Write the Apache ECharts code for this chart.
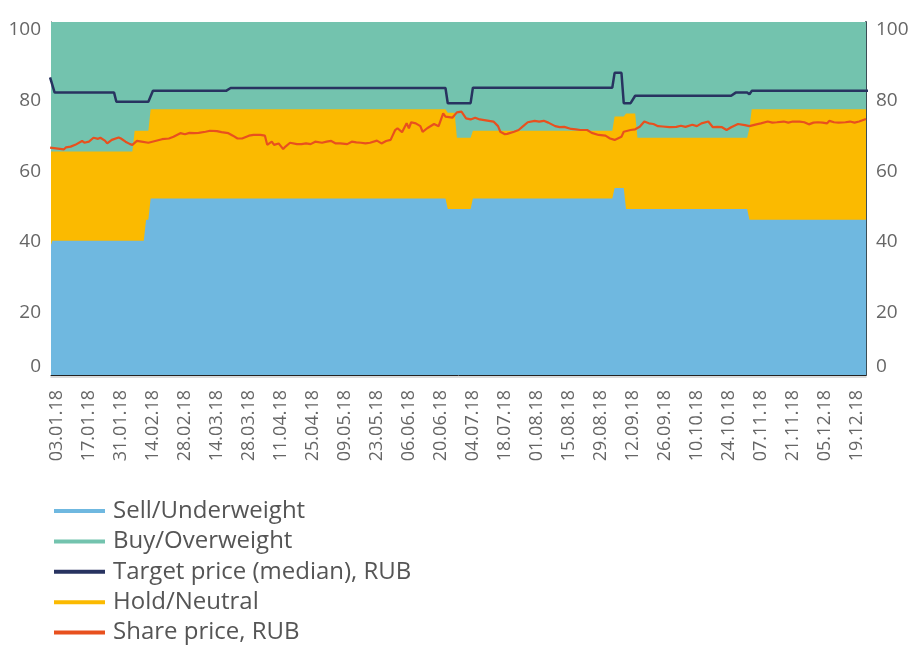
<!DOCTYPE html>
<html>
<head>
<meta charset="utf-8">
<script src="https://cdn.jsdelivr.net/npm/echarts@6/dist/echarts.min.js"></script>
<style>
  html, body { margin: 0; padding: 0; background: #ffffff; }
  #chart { width: 912px; height: 646px; }
</style>
</head>
<body>
<div id="chart"></div>
<script>
// Analyst recommendation split (% of analysts), at the dates where it changes
const ratingDates = [
  '2017-12-31', '2018-01-01', '2018-02-05', '2018-02-06', '2018-02-10', '2018-02-11',
  '2018-02-12', '2018-02-13', '2018-06-22', '2018-06-23', '2018-06-26', '2018-06-27',
  '2018-07-03', '2018-07-04', '2018-09-03', '2018-09-04', '2018-09-08', '2018-09-09',
  '2018-09-13', '2018-09-14', '2018-11-01', '2018-11-02', '2018-11-03', '2018-12-26'
];
const sellShare = [36, 38, 38, 38, 38, 44, 44, 50, 50, 47, 47, 47, 47, 50, 50, 53, 53, 47, 47, 47, 47, 44, 44, 44];
const holdShare = [27.3, 25.3, 25.3, 31.2, 31.2, 25.2, 25.2, 25.3, 25.3, 27.3, 27.3, 20.2, 20.2, 19.2, 19.2, 20.2, 20.2, 27.1, 27.1, 20.2, 20.2, 25.9, 31.3, 31.3];
const buyShare  = [36.7, 36.7, 36.7, 30.8, 30.8, 30.8, 30.8, 24.7, 24.7, 25.7, 25.7, 32.8, 32.8, 30.8, 30.8, 26.8, 26.8, 25.9, 25.9, 32.8, 32.8, 30.1, 24.7, 24.7];

// Median analyst target price, RUB
const targetDates = [
  '2017-12-31', '2018-01-02', '2018-01-28', '2018-01-29', '2018-02-12', '2018-02-14',
  '2018-03-18', '2018-03-20', '2018-06-22', '2018-06-23', '2018-07-03', '2018-07-04',
  '2018-09-03', '2018-09-04', '2018-09-07', '2018-09-08', '2018-09-11', '2018-09-13',
  '2018-10-25', '2018-10-27', '2018-11-01', '2018-11-02', '2018-11-03', '2018-12-26'
];
const targetPrice = [84.3, 80.0, 80.0, 77.4, 77.4, 80.5, 80.5, 81.3, 81.3, 77.0, 77.0, 81.4,
  81.4, 85.6, 85.6, 77.0, 77.0, 79.1, 79.1, 80.0, 80.0, 79.5, 80.5, 80.5];

// Share price, RUB
const priceDates = [
  '2017-12-31', '2018-01-06', '2018-01-07', '2018-01-09', '2018-01-11', '2018-01-14', '2018-01-15',
  '2018-01-17', '2018-01-19', '2018-01-21', '2018-01-22', '2018-01-24', '2018-01-25', '2018-01-27',
  '2018-01-30', '2018-01-31', '2018-02-02', '2018-02-04', '2018-02-05', '2018-02-07', '2018-02-09',
  '2018-02-12', '2018-02-15', '2018-02-18', '2018-02-21', '2018-02-23', '2018-02-26', '2018-02-28',
  '2018-03-02', '2018-03-04', '2018-03-06', '2018-03-09', '2018-03-11', '2018-03-14', '2018-03-16',
  '2018-03-19', '2018-03-21', '2018-03-23', '2018-03-25', '2018-03-28', '2018-03-30', '2018-04-02',
  '2018-04-04', '2018-04-05', '2018-04-07', '2018-04-08', '2018-04-10', '2018-04-12', '2018-04-13',
  '2018-04-15', '2018-04-18', '2018-04-20', '2018-04-22', '2018-04-24', '2018-04-26', '2018-04-29',
  '2018-05-01', '2018-05-03', '2018-05-05', '2018-05-07', '2018-05-10', '2018-05-12', '2018-05-14',
  '2018-05-16', '2018-05-18', '2018-05-20', '2018-05-23', '2018-05-25', '2018-05-27', '2018-05-29',
  '2018-05-31', '2018-06-01', '2018-06-03', '2018-06-05', '2018-06-06', '2018-06-07', '2018-06-09',
  '2018-06-11', '2018-06-12', '2018-06-14', '2018-06-17', '2018-06-19', '2018-06-21', '2018-06-22',
  '2018-06-25', '2018-06-27', '2018-06-29', '2018-07-01', '2018-07-03', '2018-07-05', '2018-07-07',
  '2018-07-09', '2018-07-11', '2018-07-13', '2018-07-15', '2018-07-16', '2018-07-18', '2018-07-19',
  '2018-07-22', '2018-07-24', '2018-07-26', '2018-07-28', '2018-07-31', '2018-08-02', '2018-08-04',
  '2018-08-06', '2018-08-09', '2018-08-11', '2018-08-13', '2018-08-16', '2018-08-18', '2018-08-20',
  '2018-08-23', '2018-08-25', '2018-08-28', '2018-08-31', '2018-09-02', '2018-09-04', '2018-09-07',
  '2018-09-08', '2018-09-11', '2018-09-13', '2018-09-15', '2018-09-17', '2018-09-19', '2018-09-21',
  '2018-09-23', '2018-09-25', '2018-09-28', '2018-10-01', '2018-10-03', '2018-10-05', '2018-10-08',
  '2018-10-10', '2018-10-12', '2018-10-15', '2018-10-17', '2018-10-19', '2018-10-21', '2018-10-23',
  '2018-10-25', '2018-10-28', '2018-10-31', '2018-11-02', '2018-11-05', '2018-11-07', '2018-11-10',
  '2018-11-12', '2018-11-14', '2018-11-17', '2018-11-19', '2018-11-21', '2018-11-24', '2018-11-26',
  '2018-11-28', '2018-11-30', '2018-12-02', '2018-12-04', '2018-12-06', '2018-12-07', '2018-12-09',
  '2018-12-11', '2018-12-14', '2018-12-16', '2018-12-18', '2018-12-20', '2018-12-23'
];
const sharePrice = [
  64.4, 63.9, 64.5, 64.7, 65.2, 66.3, 65.8,
  66.1, 67.2, 66.9, 67.2, 66.4, 65.6, 66.6,
  67.3, 67.0, 66.1, 65.4, 65.2, 66.3, 66.1,
  65.8, 66.3, 66.8, 67.0, 67.5, 68.5, 68.2,
  68.6, 68.5, 68.6, 68.9, 69.2, 69.1, 68.8,
  68.5, 67.8, 67.0, 67.0, 67.8, 68.0, 68.0,
  67.8, 65.2, 66.1, 65.2, 65.6, 64.0, 64.7,
  65.8, 65.4, 65.4, 65.6, 65.4, 66.1, 65.8,
  66.1, 66.3, 65.6, 65.6, 65.4, 66.1, 65.9,
  65.8, 65.6, 65.8, 66.4, 65.6, 66.3, 66.6,
  69.4, 69.9, 68.8, 71.3, 69.9, 71.6, 71.3,
  70.5, 68.9, 69.9, 71.1, 70.5, 74.1, 73.2,
  72.9, 74.4, 74.6, 72.7, 72.4, 72.9, 72.4,
  72.2, 72.0, 71.8, 70.5, 68.9, 68.2, 68.3,
  68.9, 69.4, 70.5, 71.6, 72.0, 71.8, 72.0,
  71.5, 70.5, 70.2, 70.3, 69.7, 69.6, 69.4,
  69.4, 68.6, 68.0, 67.8, 67.0, 66.6, 67.5,
  68.9, 69.4, 69.6, 70.3, 71.8, 71.3, 71.1,
  70.5, 70.4, 70.2, 70.3, 70.6, 70.3, 70.9,
  70.5, 71.3, 71.8, 70.2, 70.3, 70.2, 69.4,
  70.2, 71.1, 70.8, 70.5, 71.0, 71.3, 71.8,
  71.5, 71.6, 71.8, 71.5, 71.8, 71.8, 71.6,
  71.0, 71.5, 71.6, 71.5, 71.3, 72.0, 71.6,
  71.5, 71.6, 71.8, 71.5, 71.8, 72.5
];

// Date axis labels, one every two weeks
const tickLabels = [
  '03.01.18', '17.01.18', '31.01.18', '14.02.18', '28.02.18', '14.03.18', '28.03.18',
  '11.04.18', '25.04.18', '09.05.18', '23.05.18', '06.06.18', '20.06.18', '04.07.18',
  '18.07.18', '01.08.18', '15.08.18', '29.08.18', '12.09.18', '26.09.18', '10.10.18',
  '24.10.18', '07.11.18', '21.11.18', '05.12.18', '19.12.18'
];

// x positions are days counted from 3 Jan 2018
const DAY = 86400000;
const ORIGIN = Date.UTC(2018, 0, 3);
function isoToDay(s) {
  const p = s.split('-').map(Number);
  return (Date.UTC(p[0], p[1] - 1, p[2]) - ORIGIN) / DAY;
}
function labelToDay(s) {
  const p = s.split('.').map(Number);
  return (Date.UTC(2000 + p[2], p[1] - 1, p[0]) - ORIGIN) / DAY;
}
function dayToLabel(v) {
  const d = new Date(ORIGIN + Math.round(v) * DAY);
  const pad = n => String(n).padStart(2, '0');
  return pad(d.getUTCDate()) + '.' + pad(d.getUTCMonth() + 1) + '.' + String(d.getUTCFullYear()).slice(2);
}
const pairs = (dates, vals) => dates.map((d, i) => [isoToDay(d), vals[i]]);

// Cumulative levels of the three rating bands (sell at the bottom, buy on top)
const sellTop = sellShare.slice();
const holdTop = sellShare.map((v, i) => v + holdShare[i]);
const buyTop = holdTop.map((v, i) => v + buyShare[i]);

const FONT = 'Open Sans';
const LABEL_COLOR = '#666666';
const X_MIN = -2.6, X_MAX = 354;

const C_SELL = '#6fb8e0';
const C_HOLD = '#fbba00';
const C_BUY = '#73c3ae';
const C_TARGET = '#283360';
const C_PRICE = '#e8501e';

function bandSeries(name, levels, color, z) {
  return {
    name: name, type: 'line',
    xAxisIndex: 0, yAxisIndex: 0,
    data: pairs(ratingDates, levels),
    showSymbol: false, symbol: 'none', silent: true, z: z,
    itemStyle: { color: color },
    lineStyle: { color: color, width: 0 },
    areaStyle: { color: color, opacity: 1, origin: 'start' }
  };
}

function valueAxis(pos, lineColor, lineWidth) {
  return {
    type: 'value', position: pos, min: 0, max: 100, interval: 20,
    axisLine: { show: true, onZero: false, lineStyle: { color: lineColor, width: lineWidth } },
    axisTick: { show: false },
    splitLine: { show: false },
    axisLabel: {
      formatter: v => (v === 0 ? '' : String(v)),
      verticalAlign: 'top', lineHeight: 16,
      fontFamily: FONT, fontSize: 19, color: LABEL_COLOR, margin: 10
    }
  };
}
// separate axes carry the "0" labels, which sit above the baseline
function zeroAxis(pos) {
  return {
    type: 'value', position: pos, min: 0, max: 100, interval: 20,
    axisLine: { show: false, onZero: false }, axisTick: { show: false }, splitLine: { show: false },
    axisLabel: {
      formatter: v => (v === 0 ? '0' : ''),
      verticalAlign: 'bottom', lineHeight: 16,
      fontFamily: FONT, fontSize: 19, color: LABEL_COLOR, margin: 10
    }
  };
}

const chart = echarts.init(document.getElementById('chart'), null, { renderer: 'canvas' });
chart.setOption({
  animation: false,
  backgroundColor: '#ffffff',
  grid: { left: 51, right: 46, top: 22, bottom: 271, containLabel: false },
  legend: {
    orient: 'vertical', left: 49, top: 494, height: 200,
    icon: 'rect', itemWidth: 51, itemHeight: 4, itemGap: 6.4,
    selectedMode: false,
    textStyle: { fontFamily: FONT, fontSize: 24, color: '#555555', padding: [0, 0, 0, 3] },
    data: ['Sell/Underweight', 'Buy/Overweight', 'Target price (median), RUB', 'Hold/Neutral', 'Share price, RUB']
  },
  xAxis: [
    {
      type: 'value', min: X_MIN, max: X_MAX, position: 'bottom',
      axisLine: { show: true, onZero: false, lineStyle: { color: '#222222', width: 1 } },
      axisTick: { show: false },
      splitLine: { show: false },
      axisLabel: {
        customValues: tickLabels.map(labelToDay),
        formatter: v => dayToLabel(v),
        rotate: 90, margin: 15,
        fontFamily: FONT, fontSize: 18, color: LABEL_COLOR
      }
    },
    {
      type: 'value', min: X_MIN, max: X_MAX, position: 'bottom', offset: 1.5,
      axisLine: { show: true, onZero: false, lineStyle: { color: '#cfcfcf', width: 1.5 } },
      axisTick: { show: false }, axisLabel: { show: false }, splitLine: { show: false }
    }
  ],
  yAxis: [
    valueAxis('left', '#333333', 1),
    valueAxis('right', '#3b4d55', 2),
    zeroAxis('left'),
    zeroAxis('right')
  ],
  series: [
    bandSeries('Buy/Overweight', buyTop, C_BUY, 1),
    bandSeries('Hold/Neutral', holdTop, C_HOLD, 2),
    bandSeries('Sell/Underweight', sellTop, C_SELL, 3),
    {
      name: 'Target price (median), RUB', type: 'line', xAxisIndex: 0, yAxisIndex: 1,
      data: pairs(targetDates, targetPrice),
      showSymbol: false, symbol: 'none', silent: true, z: 4,
      itemStyle: { color: C_TARGET },
      lineStyle: { color: C_TARGET, width: 2.5 }
    },
    {
      name: 'Share price, RUB', type: 'line', xAxisIndex: 0, yAxisIndex: 1,
      data: pairs(priceDates, sharePrice),
      showSymbol: false, symbol: 'none', silent: true, z: 5,
      itemStyle: { color: C_PRICE },
      lineStyle: { color: C_PRICE, width: 2.2 }
    }
  ]
});
</script>
</body>
</html>
